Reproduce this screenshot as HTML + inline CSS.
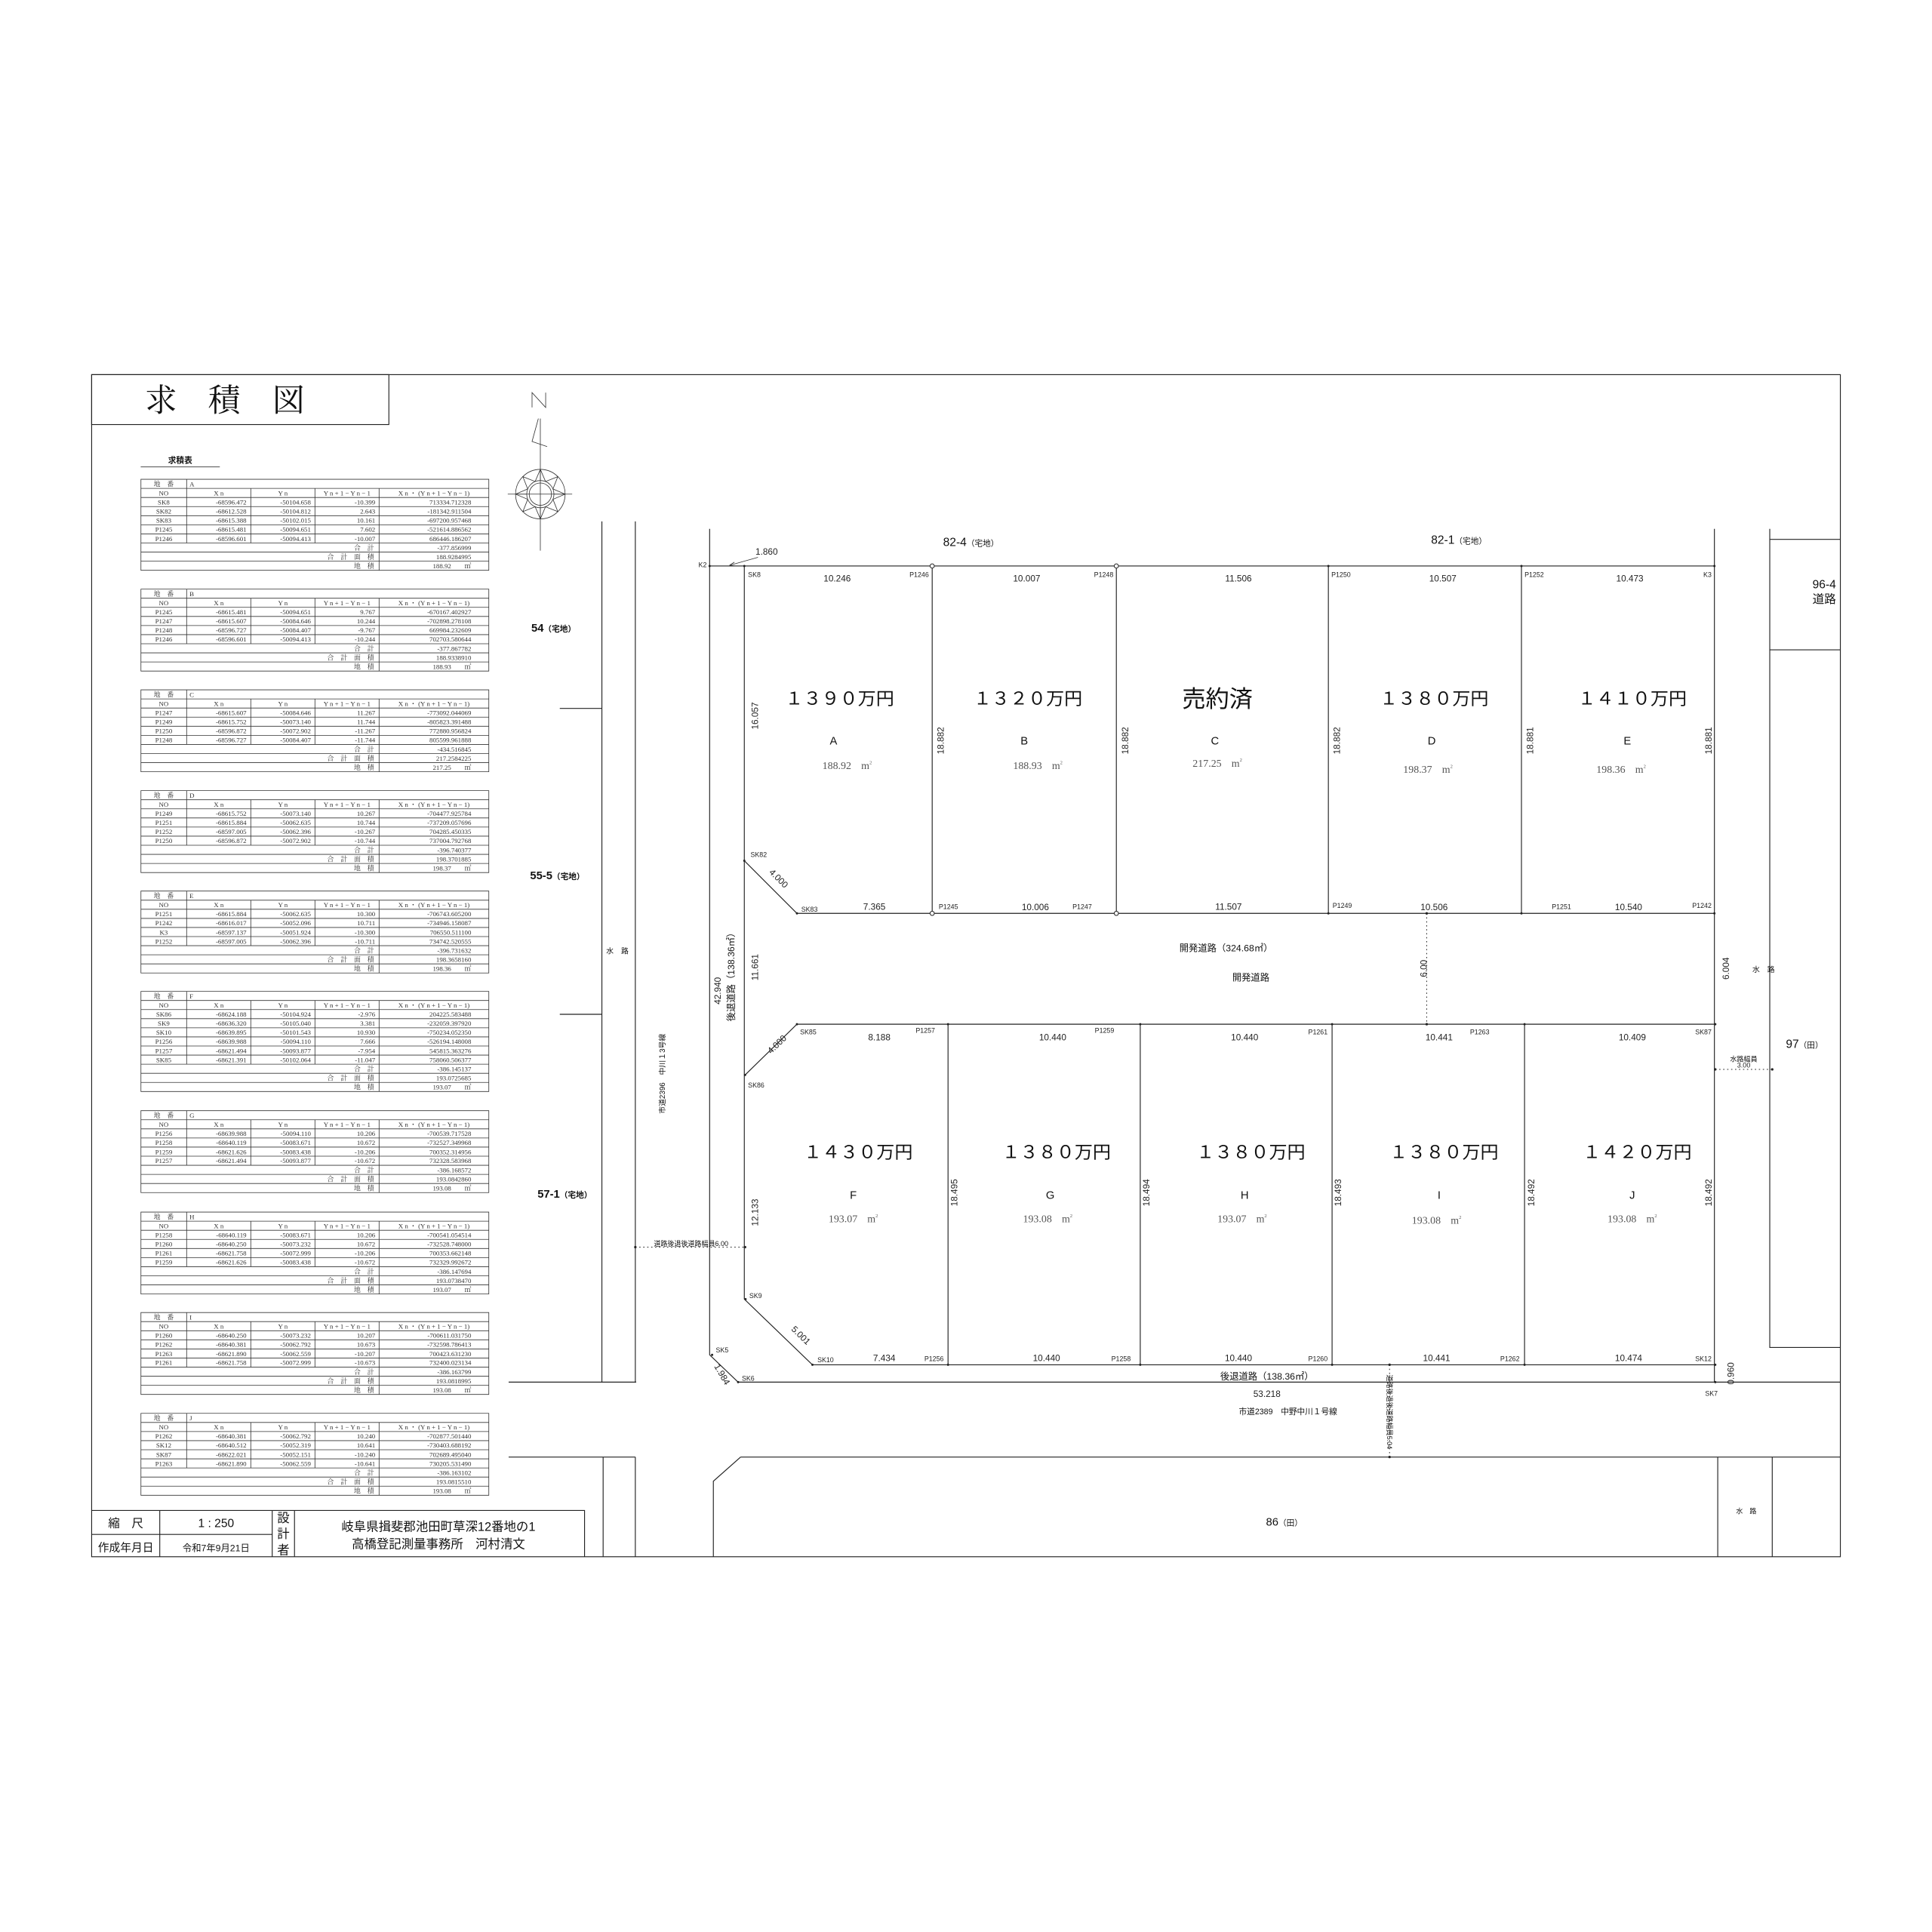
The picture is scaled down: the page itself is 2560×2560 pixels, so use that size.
<!DOCTYPE html>
<html><head><meta charset="utf-8"><style>
html,body{margin:0;padding:0;background:#fff}
svg{display:block}
.ln{stroke:#222;stroke-width:0.7;fill:none}
.tn{stroke:#333;stroke-width:0.5;fill:none}
.dt{stroke:#222;stroke-width:0.6;stroke-dasharray:1 2.2;fill:none}
.tb text{font-family:"Liberation Serif","Noto Serif CJK JP",serif;font-size:5.4px;fill:#333}
.tb .c{text-anchor:middle}.tb .r{text-anchor:end}
.dm{font-family:"Liberation Sans Narrow","Liberation Sans","Noto Sans CJK JP",sans-serif;font-size:7.2px;fill:#222;text-anchor:middle}
.pt{font-family:"Liberation Sans Narrow","Liberation Sans","Noto Sans CJK JP",sans-serif;font-size:5.4px;fill:#222}
.pr{font-family:"Liberation Sans","Noto Sans CJK JP",sans-serif;font-size:14px;fill:#111;text-anchor:middle}
.lt{font-family:"Liberation Sans Narrow","Liberation Sans",sans-serif;font-size:9px;fill:#111;text-anchor:middle}
.ar{font-family:"Liberation Serif","Noto Serif CJK JP",serif;font-size:8.5px;fill:#555}
.jp{font-family:"Liberation Sans","Noto Sans CJK JP",sans-serif;fill:#111}
</style></head><body>
<svg width="2560" height="2560" viewBox="0 0 1560 1560" xmlns="http://www.w3.org/2000/svg">
<rect width="1560" height="1560" fill="#fff"/>
<rect x="74" y="302.5" width="1412" height="954.5" class="ln"/>
<rect x="74" y="302.5" width="240" height="40.3" class="ln"/>
<text x="117" y="332" class="jp" style="font-family:'Liberation Serif','Noto Serif CJK JP',serif;font-size:26px">求</text>
<text x="168" y="332" class="jp" style="font-family:'Liberation Serif','Noto Serif CJK JP',serif;font-size:26px">積</text>
<text x="220" y="332" class="jp" style="font-family:'Liberation Serif','Noto Serif CJK JP',serif;font-size:26px">図</text>
<text x="145.5" y="374" class="jp" style="font-size:6.5px;font-weight:bold" text-anchor="middle">求積表</text>
<line x1="113.6" y1="377" x2="177.5" y2="377" class="tn"/>

<g class="tb">
<g transform="translate(0,387)">
<path class="tn" d="M113.8 0H394.7V73.5H113.8Z M113.8 7.35H394.7 M113.8 14.7H394.7 M113.8 22.05H394.7 M113.8 29.4H394.7 M113.8 36.75H394.7 M113.8 44.1H394.7 M113.8 51.45H394.7 M113.8 58.8H394.7 M113.8 66.15H394.7 M150.7 0V51.45 M202.5 7.35V51.45 M254.3 7.35V51.45 M306.1 7.35V73.5"/>
<text x="132.2" y="5.7" class="c">地　番</text><text x="153" y="5.7">A</text>
<text x="132.2" y="13" class="c">NO</text><text x="176.6" y="13" class="c">X n</text><text x="228.4" y="13" class="c">Y n</text><text x="280.2" y="13" class="c">Y n + 1 − Y n − 1</text><text x="350.4" y="13" class="c">X n ・ (Y n + 1 − Y n − 1)</text>
<text x="132.2" y="20.4" class="c">SK8</text><text x="199" y="20.4" class="r">-68596.472</text><text x="251" y="20.4" class="r">-50104.658</text><text x="303" y="20.4" class="r">-10.399</text><text x="380.5" y="20.4" class="r">713334.712328</text>
<text x="132.2" y="27.7" class="c">SK82</text><text x="199" y="27.7" class="r">-68612.528</text><text x="251" y="27.7" class="r">-50104.812</text><text x="303" y="27.7" class="r">2.643</text><text x="380.5" y="27.7" class="r">-181342.911504</text>
<text x="132.2" y="35.1" class="c">SK83</text><text x="199" y="35.1" class="r">-68615.388</text><text x="251" y="35.1" class="r">-50102.015</text><text x="303" y="35.1" class="r">10.161</text><text x="380.5" y="35.1" class="r">-697200.957468</text>
<text x="132.2" y="42.4" class="c">P1245</text><text x="199" y="42.4" class="r">-68615.481</text><text x="251" y="42.4" class="r">-50094.651</text><text x="303" y="42.4" class="r">7.602</text><text x="380.5" y="42.4" class="r">-521614.886562</text>
<text x="132.2" y="49.8" class="c">P1246</text><text x="199" y="49.8" class="r">-68596.601</text><text x="251" y="49.8" class="r">-50094.413</text><text x="303" y="49.8" class="r">-10.007</text><text x="380.5" y="49.8" class="r">686446.186207</text>
<text x="302" y="57.2" class="r">合　計</text><text x="380.5" y="57.2" class="r">-377.856999</text>
<text x="302" y="64.5" class="r">合　計　面　積</text><text x="380.5" y="64.5" class="r">188.9284995</text>
<text x="302" y="71.9" class="r">地　積</text><text x="380.5" y="71.9" class="r">188.92　　㎡</text>
</g>
<g transform="translate(0,475.7)">
<path class="tn" d="M113.8 0H394.7V66.15H113.8Z M113.8 7.35H394.7 M113.8 14.7H394.7 M113.8 22.05H394.7 M113.8 29.4H394.7 M113.8 36.75H394.7 M113.8 44.1H394.7 M113.8 51.45H394.7 M113.8 58.8H394.7 M150.7 0V44.1 M202.5 7.35V44.1 M254.3 7.35V44.1 M306.1 7.35V66.15"/>
<text x="132.2" y="5.7" class="c">地　番</text><text x="153" y="5.7">B</text>
<text x="132.2" y="13" class="c">NO</text><text x="176.6" y="13" class="c">X n</text><text x="228.4" y="13" class="c">Y n</text><text x="280.2" y="13" class="c">Y n + 1 − Y n − 1</text><text x="350.4" y="13" class="c">X n ・ (Y n + 1 − Y n − 1)</text>
<text x="132.2" y="20.4" class="c">P1245</text><text x="199" y="20.4" class="r">-68615.481</text><text x="251" y="20.4" class="r">-50094.651</text><text x="303" y="20.4" class="r">9.767</text><text x="380.5" y="20.4" class="r">-670167.402927</text>
<text x="132.2" y="27.7" class="c">P1247</text><text x="199" y="27.7" class="r">-68615.607</text><text x="251" y="27.7" class="r">-50084.646</text><text x="303" y="27.7" class="r">10.244</text><text x="380.5" y="27.7" class="r">-702898.278108</text>
<text x="132.2" y="35.1" class="c">P1248</text><text x="199" y="35.1" class="r">-68596.727</text><text x="251" y="35.1" class="r">-50084.407</text><text x="303" y="35.1" class="r">-9.767</text><text x="380.5" y="35.1" class="r">669984.232609</text>
<text x="132.2" y="42.4" class="c">P1246</text><text x="199" y="42.4" class="r">-68596.601</text><text x="251" y="42.4" class="r">-50094.413</text><text x="303" y="42.4" class="r">-10.244</text><text x="380.5" y="42.4" class="r">702703.580644</text>
<text x="302" y="49.8" class="r">合　計</text><text x="380.5" y="49.8" class="r">-377.867782</text>
<text x="302" y="57.2" class="r">合　計　面　積</text><text x="380.5" y="57.2" class="r">188.9338910</text>
<text x="302" y="64.5" class="r">地　積</text><text x="380.5" y="64.5" class="r">188.93　　㎡</text>
</g>
<g transform="translate(0,557)">
<path class="tn" d="M113.8 0H394.7V66.15H113.8Z M113.8 7.35H394.7 M113.8 14.7H394.7 M113.8 22.05H394.7 M113.8 29.4H394.7 M113.8 36.75H394.7 M113.8 44.1H394.7 M113.8 51.45H394.7 M113.8 58.8H394.7 M150.7 0V44.1 M202.5 7.35V44.1 M254.3 7.35V44.1 M306.1 7.35V66.15"/>
<text x="132.2" y="5.7" class="c">地　番</text><text x="153" y="5.7">C</text>
<text x="132.2" y="13" class="c">NO</text><text x="176.6" y="13" class="c">X n</text><text x="228.4" y="13" class="c">Y n</text><text x="280.2" y="13" class="c">Y n + 1 − Y n − 1</text><text x="350.4" y="13" class="c">X n ・ (Y n + 1 − Y n − 1)</text>
<text x="132.2" y="20.4" class="c">P1247</text><text x="199" y="20.4" class="r">-68615.607</text><text x="251" y="20.4" class="r">-50084.646</text><text x="303" y="20.4" class="r">11.267</text><text x="380.5" y="20.4" class="r">-773092.044069</text>
<text x="132.2" y="27.7" class="c">P1249</text><text x="199" y="27.7" class="r">-68615.752</text><text x="251" y="27.7" class="r">-50073.140</text><text x="303" y="27.7" class="r">11.744</text><text x="380.5" y="27.7" class="r">-805823.391488</text>
<text x="132.2" y="35.1" class="c">P1250</text><text x="199" y="35.1" class="r">-68596.872</text><text x="251" y="35.1" class="r">-50072.902</text><text x="303" y="35.1" class="r">-11.267</text><text x="380.5" y="35.1" class="r">772880.956824</text>
<text x="132.2" y="42.4" class="c">P1248</text><text x="199" y="42.4" class="r">-68596.727</text><text x="251" y="42.4" class="r">-50084.407</text><text x="303" y="42.4" class="r">-11.744</text><text x="380.5" y="42.4" class="r">805599.961888</text>
<text x="302" y="49.8" class="r">合　計</text><text x="380.5" y="49.8" class="r">-434.516845</text>
<text x="302" y="57.2" class="r">合　計　面　積</text><text x="380.5" y="57.2" class="r">217.2584225</text>
<text x="302" y="64.5" class="r">地　積</text><text x="380.5" y="64.5" class="r">217.25　　㎡</text>
</g>
<g transform="translate(0,638.4)">
<path class="tn" d="M113.8 0H394.7V66.15H113.8Z M113.8 7.35H394.7 M113.8 14.7H394.7 M113.8 22.05H394.7 M113.8 29.4H394.7 M113.8 36.75H394.7 M113.8 44.1H394.7 M113.8 51.45H394.7 M113.8 58.8H394.7 M150.7 0V44.1 M202.5 7.35V44.1 M254.3 7.35V44.1 M306.1 7.35V66.15"/>
<text x="132.2" y="5.7" class="c">地　番</text><text x="153" y="5.7">D</text>
<text x="132.2" y="13" class="c">NO</text><text x="176.6" y="13" class="c">X n</text><text x="228.4" y="13" class="c">Y n</text><text x="280.2" y="13" class="c">Y n + 1 − Y n − 1</text><text x="350.4" y="13" class="c">X n ・ (Y n + 1 − Y n − 1)</text>
<text x="132.2" y="20.4" class="c">P1249</text><text x="199" y="20.4" class="r">-68615.752</text><text x="251" y="20.4" class="r">-50073.140</text><text x="303" y="20.4" class="r">10.267</text><text x="380.5" y="20.4" class="r">-704477.925784</text>
<text x="132.2" y="27.7" class="c">P1251</text><text x="199" y="27.7" class="r">-68615.884</text><text x="251" y="27.7" class="r">-50062.635</text><text x="303" y="27.7" class="r">10.744</text><text x="380.5" y="27.7" class="r">-737209.057696</text>
<text x="132.2" y="35.1" class="c">P1252</text><text x="199" y="35.1" class="r">-68597.005</text><text x="251" y="35.1" class="r">-50062.396</text><text x="303" y="35.1" class="r">-10.267</text><text x="380.5" y="35.1" class="r">704285.450335</text>
<text x="132.2" y="42.4" class="c">P1250</text><text x="199" y="42.4" class="r">-68596.872</text><text x="251" y="42.4" class="r">-50072.902</text><text x="303" y="42.4" class="r">-10.744</text><text x="380.5" y="42.4" class="r">737004.792768</text>
<text x="302" y="49.8" class="r">合　計</text><text x="380.5" y="49.8" class="r">-396.740377</text>
<text x="302" y="57.2" class="r">合　計　面　積</text><text x="380.5" y="57.2" class="r">198.3701885</text>
<text x="302" y="64.5" class="r">地　積</text><text x="380.5" y="64.5" class="r">198.37　　㎡</text>
</g>
<g transform="translate(0,719.5)">
<path class="tn" d="M113.8 0H394.7V66.15H113.8Z M113.8 7.35H394.7 M113.8 14.7H394.7 M113.8 22.05H394.7 M113.8 29.4H394.7 M113.8 36.75H394.7 M113.8 44.1H394.7 M113.8 51.45H394.7 M113.8 58.8H394.7 M150.7 0V44.1 M202.5 7.35V44.1 M254.3 7.35V44.1 M306.1 7.35V66.15"/>
<text x="132.2" y="5.7" class="c">地　番</text><text x="153" y="5.7">E</text>
<text x="132.2" y="13" class="c">NO</text><text x="176.6" y="13" class="c">X n</text><text x="228.4" y="13" class="c">Y n</text><text x="280.2" y="13" class="c">Y n + 1 − Y n − 1</text><text x="350.4" y="13" class="c">X n ・ (Y n + 1 − Y n − 1)</text>
<text x="132.2" y="20.4" class="c">P1251</text><text x="199" y="20.4" class="r">-68615.884</text><text x="251" y="20.4" class="r">-50062.635</text><text x="303" y="20.4" class="r">10.300</text><text x="380.5" y="20.4" class="r">-706743.605200</text>
<text x="132.2" y="27.7" class="c">P1242</text><text x="199" y="27.7" class="r">-68616.017</text><text x="251" y="27.7" class="r">-50052.096</text><text x="303" y="27.7" class="r">10.711</text><text x="380.5" y="27.7" class="r">-734946.158087</text>
<text x="132.2" y="35.1" class="c">K3</text><text x="199" y="35.1" class="r">-68597.137</text><text x="251" y="35.1" class="r">-50051.924</text><text x="303" y="35.1" class="r">-10.300</text><text x="380.5" y="35.1" class="r">706550.511100</text>
<text x="132.2" y="42.4" class="c">P1252</text><text x="199" y="42.4" class="r">-68597.005</text><text x="251" y="42.4" class="r">-50062.396</text><text x="303" y="42.4" class="r">-10.711</text><text x="380.5" y="42.4" class="r">734742.520555</text>
<text x="302" y="49.8" class="r">合　計</text><text x="380.5" y="49.8" class="r">-396.731632</text>
<text x="302" y="57.2" class="r">合　計　面　積</text><text x="380.5" y="57.2" class="r">198.3658160</text>
<text x="302" y="64.5" class="r">地　積</text><text x="380.5" y="64.5" class="r">198.36　　㎡</text>
</g>
<g transform="translate(0,800.5)">
<path class="tn" d="M113.8 0H394.7V80.85H113.8Z M113.8 7.35H394.7 M113.8 14.7H394.7 M113.8 22.05H394.7 M113.8 29.4H394.7 M113.8 36.75H394.7 M113.8 44.1H394.7 M113.8 51.45H394.7 M113.8 58.8H394.7 M113.8 66.15H394.7 M113.8 73.5H394.7 M150.7 0V58.8 M202.5 7.35V58.8 M254.3 7.35V58.8 M306.1 7.35V80.85"/>
<text x="132.2" y="5.7" class="c">地　番</text><text x="153" y="5.7">F</text>
<text x="132.2" y="13" class="c">NO</text><text x="176.6" y="13" class="c">X n</text><text x="228.4" y="13" class="c">Y n</text><text x="280.2" y="13" class="c">Y n + 1 − Y n − 1</text><text x="350.4" y="13" class="c">X n ・ (Y n + 1 − Y n − 1)</text>
<text x="132.2" y="20.4" class="c">SK86</text><text x="199" y="20.4" class="r">-68624.188</text><text x="251" y="20.4" class="r">-50104.924</text><text x="303" y="20.4" class="r">-2.976</text><text x="380.5" y="20.4" class="r">204225.583488</text>
<text x="132.2" y="27.7" class="c">SK9</text><text x="199" y="27.7" class="r">-68636.320</text><text x="251" y="27.7" class="r">-50105.040</text><text x="303" y="27.7" class="r">3.381</text><text x="380.5" y="27.7" class="r">-232059.397920</text>
<text x="132.2" y="35.1" class="c">SK10</text><text x="199" y="35.1" class="r">-68639.895</text><text x="251" y="35.1" class="r">-50101.543</text><text x="303" y="35.1" class="r">10.930</text><text x="380.5" y="35.1" class="r">-750234.052350</text>
<text x="132.2" y="42.4" class="c">P1256</text><text x="199" y="42.4" class="r">-68639.988</text><text x="251" y="42.4" class="r">-50094.110</text><text x="303" y="42.4" class="r">7.666</text><text x="380.5" y="42.4" class="r">-526194.148008</text>
<text x="132.2" y="49.8" class="c">P1257</text><text x="199" y="49.8" class="r">-68621.494</text><text x="251" y="49.8" class="r">-50093.877</text><text x="303" y="49.8" class="r">-7.954</text><text x="380.5" y="49.8" class="r">545815.363276</text>
<text x="132.2" y="57.2" class="c">SK85</text><text x="199" y="57.2" class="r">-68621.391</text><text x="251" y="57.2" class="r">-50102.064</text><text x="303" y="57.2" class="r">-11.047</text><text x="380.5" y="57.2" class="r">758060.506377</text>
<text x="302" y="64.5" class="r">合　計</text><text x="380.5" y="64.5" class="r">-386.145137</text>
<text x="302" y="71.9" class="r">合　計　面　積</text><text x="380.5" y="71.9" class="r">193.0725685</text>
<text x="302" y="79.2" class="r">地　積</text><text x="380.5" y="79.2" class="r">193.07　　㎡</text>
</g>
<g transform="translate(0,896.8)">
<path class="tn" d="M113.8 0H394.7V66.15H113.8Z M113.8 7.35H394.7 M113.8 14.7H394.7 M113.8 22.05H394.7 M113.8 29.4H394.7 M113.8 36.75H394.7 M113.8 44.1H394.7 M113.8 51.45H394.7 M113.8 58.8H394.7 M150.7 0V44.1 M202.5 7.35V44.1 M254.3 7.35V44.1 M306.1 7.35V66.15"/>
<text x="132.2" y="5.7" class="c">地　番</text><text x="153" y="5.7">G</text>
<text x="132.2" y="13" class="c">NO</text><text x="176.6" y="13" class="c">X n</text><text x="228.4" y="13" class="c">Y n</text><text x="280.2" y="13" class="c">Y n + 1 − Y n − 1</text><text x="350.4" y="13" class="c">X n ・ (Y n + 1 − Y n − 1)</text>
<text x="132.2" y="20.4" class="c">P1256</text><text x="199" y="20.4" class="r">-68639.988</text><text x="251" y="20.4" class="r">-50094.110</text><text x="303" y="20.4" class="r">10.206</text><text x="380.5" y="20.4" class="r">-700539.717528</text>
<text x="132.2" y="27.7" class="c">P1258</text><text x="199" y="27.7" class="r">-68640.119</text><text x="251" y="27.7" class="r">-50083.671</text><text x="303" y="27.7" class="r">10.672</text><text x="380.5" y="27.7" class="r">-732527.349968</text>
<text x="132.2" y="35.1" class="c">P1259</text><text x="199" y="35.1" class="r">-68621.626</text><text x="251" y="35.1" class="r">-50083.438</text><text x="303" y="35.1" class="r">-10.206</text><text x="380.5" y="35.1" class="r">700352.314956</text>
<text x="132.2" y="42.4" class="c">P1257</text><text x="199" y="42.4" class="r">-68621.494</text><text x="251" y="42.4" class="r">-50093.877</text><text x="303" y="42.4" class="r">-10.672</text><text x="380.5" y="42.4" class="r">732328.583968</text>
<text x="302" y="49.8" class="r">合　計</text><text x="380.5" y="49.8" class="r">-386.168572</text>
<text x="302" y="57.2" class="r">合　計　面　積</text><text x="380.5" y="57.2" class="r">193.0842860</text>
<text x="302" y="64.5" class="r">地　積</text><text x="380.5" y="64.5" class="r">193.08　　㎡</text>
</g>
<g transform="translate(0,978.7)">
<path class="tn" d="M113.8 0H394.7V66.15H113.8Z M113.8 7.35H394.7 M113.8 14.7H394.7 M113.8 22.05H394.7 M113.8 29.4H394.7 M113.8 36.75H394.7 M113.8 44.1H394.7 M113.8 51.45H394.7 M113.8 58.8H394.7 M150.7 0V44.1 M202.5 7.35V44.1 M254.3 7.35V44.1 M306.1 7.35V66.15"/>
<text x="132.2" y="5.7" class="c">地　番</text><text x="153" y="5.7">H</text>
<text x="132.2" y="13" class="c">NO</text><text x="176.6" y="13" class="c">X n</text><text x="228.4" y="13" class="c">Y n</text><text x="280.2" y="13" class="c">Y n + 1 − Y n − 1</text><text x="350.4" y="13" class="c">X n ・ (Y n + 1 − Y n − 1)</text>
<text x="132.2" y="20.4" class="c">P1258</text><text x="199" y="20.4" class="r">-68640.119</text><text x="251" y="20.4" class="r">-50083.671</text><text x="303" y="20.4" class="r">10.206</text><text x="380.5" y="20.4" class="r">-700541.054514</text>
<text x="132.2" y="27.7" class="c">P1260</text><text x="199" y="27.7" class="r">-68640.250</text><text x="251" y="27.7" class="r">-50073.232</text><text x="303" y="27.7" class="r">10.672</text><text x="380.5" y="27.7" class="r">-732528.748000</text>
<text x="132.2" y="35.1" class="c">P1261</text><text x="199" y="35.1" class="r">-68621.758</text><text x="251" y="35.1" class="r">-50072.999</text><text x="303" y="35.1" class="r">-10.206</text><text x="380.5" y="35.1" class="r">700353.662148</text>
<text x="132.2" y="42.4" class="c">P1259</text><text x="199" y="42.4" class="r">-68621.626</text><text x="251" y="42.4" class="r">-50083.438</text><text x="303" y="42.4" class="r">-10.672</text><text x="380.5" y="42.4" class="r">732329.992672</text>
<text x="302" y="49.8" class="r">合　計</text><text x="380.5" y="49.8" class="r">-386.147694</text>
<text x="302" y="57.2" class="r">合　計　面　積</text><text x="380.5" y="57.2" class="r">193.0738470</text>
<text x="302" y="64.5" class="r">地　積</text><text x="380.5" y="64.5" class="r">193.07　　㎡</text>
</g>
<g transform="translate(0,1059.8)">
<path class="tn" d="M113.8 0H394.7V66.15H113.8Z M113.8 7.35H394.7 M113.8 14.7H394.7 M113.8 22.05H394.7 M113.8 29.4H394.7 M113.8 36.75H394.7 M113.8 44.1H394.7 M113.8 51.45H394.7 M113.8 58.8H394.7 M150.7 0V44.1 M202.5 7.35V44.1 M254.3 7.35V44.1 M306.1 7.35V66.15"/>
<text x="132.2" y="5.7" class="c">地　番</text><text x="153" y="5.7">I</text>
<text x="132.2" y="13" class="c">NO</text><text x="176.6" y="13" class="c">X n</text><text x="228.4" y="13" class="c">Y n</text><text x="280.2" y="13" class="c">Y n + 1 − Y n − 1</text><text x="350.4" y="13" class="c">X n ・ (Y n + 1 − Y n − 1)</text>
<text x="132.2" y="20.4" class="c">P1260</text><text x="199" y="20.4" class="r">-68640.250</text><text x="251" y="20.4" class="r">-50073.232</text><text x="303" y="20.4" class="r">10.207</text><text x="380.5" y="20.4" class="r">-700611.031750</text>
<text x="132.2" y="27.7" class="c">P1262</text><text x="199" y="27.7" class="r">-68640.381</text><text x="251" y="27.7" class="r">-50062.792</text><text x="303" y="27.7" class="r">10.673</text><text x="380.5" y="27.7" class="r">-732598.786413</text>
<text x="132.2" y="35.1" class="c">P1263</text><text x="199" y="35.1" class="r">-68621.890</text><text x="251" y="35.1" class="r">-50062.559</text><text x="303" y="35.1" class="r">-10.207</text><text x="380.5" y="35.1" class="r">700423.631230</text>
<text x="132.2" y="42.4" class="c">P1261</text><text x="199" y="42.4" class="r">-68621.758</text><text x="251" y="42.4" class="r">-50072.999</text><text x="303" y="42.4" class="r">-10.673</text><text x="380.5" y="42.4" class="r">732400.023134</text>
<text x="302" y="49.8" class="r">合　計</text><text x="380.5" y="49.8" class="r">-386.163799</text>
<text x="302" y="57.2" class="r">合　計　面　積</text><text x="380.5" y="57.2" class="r">193.0818995</text>
<text x="302" y="64.5" class="r">地　積</text><text x="380.5" y="64.5" class="r">193.08　　㎡</text>
</g>
<g transform="translate(0,1141.2)">
<path class="tn" d="M113.8 0H394.7V66.15H113.8Z M113.8 7.35H394.7 M113.8 14.7H394.7 M113.8 22.05H394.7 M113.8 29.4H394.7 M113.8 36.75H394.7 M113.8 44.1H394.7 M113.8 51.45H394.7 M113.8 58.8H394.7 M150.7 0V44.1 M202.5 7.35V44.1 M254.3 7.35V44.1 M306.1 7.35V66.15"/>
<text x="132.2" y="5.7" class="c">地　番</text><text x="153" y="5.7">J</text>
<text x="132.2" y="13" class="c">NO</text><text x="176.6" y="13" class="c">X n</text><text x="228.4" y="13" class="c">Y n</text><text x="280.2" y="13" class="c">Y n + 1 − Y n − 1</text><text x="350.4" y="13" class="c">X n ・ (Y n + 1 − Y n − 1)</text>
<text x="132.2" y="20.4" class="c">P1262</text><text x="199" y="20.4" class="r">-68640.381</text><text x="251" y="20.4" class="r">-50062.792</text><text x="303" y="20.4" class="r">10.240</text><text x="380.5" y="20.4" class="r">-702877.501440</text>
<text x="132.2" y="27.7" class="c">SK12</text><text x="199" y="27.7" class="r">-68640.512</text><text x="251" y="27.7" class="r">-50052.319</text><text x="303" y="27.7" class="r">10.641</text><text x="380.5" y="27.7" class="r">-730403.688192</text>
<text x="132.2" y="35.1" class="c">SK87</text><text x="199" y="35.1" class="r">-68622.021</text><text x="251" y="35.1" class="r">-50052.151</text><text x="303" y="35.1" class="r">-10.240</text><text x="380.5" y="35.1" class="r">702689.495040</text>
<text x="132.2" y="42.4" class="c">P1263</text><text x="199" y="42.4" class="r">-68621.890</text><text x="251" y="42.4" class="r">-50062.559</text><text x="303" y="42.4" class="r">-10.641</text><text x="380.5" y="42.4" class="r">730205.531490</text>
<text x="302" y="49.8" class="r">合　計</text><text x="380.5" y="49.8" class="r">-386.163102</text>
<text x="302" y="57.2" class="r">合　計　面　積</text><text x="380.5" y="57.2" class="r">193.0815510</text>
<text x="302" y="64.5" class="r">地　積</text><text x="380.5" y="64.5" class="r">193.08　　㎡</text>
</g>
</g>

<path class="ln" d="M74 1219.6H472V1257 M129 1219.6V1257 M219.8 1219.6V1257 M237.8 1219.6V1257 M74 1239H219.8"/>
<text x="101.5" y="1233" class="jp" style="font-size:9.5px" text-anchor="middle">縮　尺</text>
<text x="174.5" y="1233" class="jp" style="font-size:9.5px" text-anchor="middle">1 : 250</text>
<text x="101.5" y="1252.5" class="jp" style="font-size:9px" text-anchor="middle">作成年月日</text>
<text x="174.5" y="1252.5" class="jp" style="font-size:7.5px" text-anchor="middle">令和7年9月21日</text>
<text x="228.8" y="1229" class="jp" style="font-size:10px" text-anchor="middle">設</text>
<text x="228.8" y="1242" class="jp" style="font-size:10px" text-anchor="middle">計</text>
<text x="228.8" y="1255" class="jp" style="font-size:10px" text-anchor="middle">者</text>
<text x="354" y="1236" class="jp" style="font-size:10px" text-anchor="middle">岐阜県揖斐郡池田町草深12番地の1</text>
<text x="354" y="1250" class="jp" style="font-size:10px" text-anchor="middle">高橋登記測量事務所　河村清文</text>

<g class="tn" style="stroke:#333">
<path d="M429.6 329V317L440.6 329V317"/>
<path d="M434.7 338L429.6 356.5L441.8 360.6"/>
<line x1="436.3" y1="338" x2="436.3" y2="444.6"/>
<line x1="410" y1="399" x2="462" y2="399"/>
<circle cx="436.3" cy="399" r="20"/>
<circle cx="436.3" cy="399" r="11"/>
<circle cx="436.3" cy="399" r="9"/>
<path d="M436.3 379L440.5 388.8L450.4 384.9L446.5 394.8L456.3 399L446.5 403.2L450.4 413.1L440.5 409.2L436.3 419L432.1 409.2L422.2 413.1L426.1 403.2L416.3 399L426.1 394.8L422.2 384.9L432.1 388.8Z"/>
<path d="M436.3 379L436.3 388M456.3 399L447.3 399M436.3 419L436.3 410M416.3 399L425.3 399"/>
</g>

<path class="ln" d="M486 421V1116 M513 421V1116 M452 572H486 M452 819H486 M410.7 1116H513.7 M410.7 1176.5H513 M487 1176.5V1257 M513 1176.5V1257"/>
<text x="498.5" y="770" class="jp" style="font-size:6px" text-anchor="middle">水　路</text>
<text transform="translate(537,867) rotate(-90)" class="jp" style="font-size:6px" text-anchor="middle">市道2396　中川１3号線</text>
<text x="447" y="510" class="jp" style="font-size:9px;font-weight:bold" text-anchor="middle">54<tspan style="font-size:6.5px">（宅地）</tspan></text>
<text x="450" y="710" class="jp" style="font-size:9px;font-weight:bold" text-anchor="middle">55-5<tspan style="font-size:6.5px">（宅地）</tspan></text>
<text x="456" y="967" class="jp" style="font-size:9px;font-weight:bold" text-anchor="middle">57-1<tspan style="font-size:6.5px">（宅地）</tspan></text>

<path class="ln" d="M573 427V1094L596 1116H1486 M573 457H1384.3 M601 457V1049L656 1102H1385 M601 695L643.5 737.5H1384.3 M601.6 868L643.5 827H1385 M1384.3 427V1116
M752.7 457V737.5 M901.4 457V737.5 M1072.6 457V737.5 M1228.5 457V737.5
M765.5 827V1102 M920.7 827V1102 M1075.6 827V1102 M1231 827V1102
M598 1176.5H1486 M598 1176.5L576 1196V1257 M1387 1176.5V1257 M1431 1176.5V1257
M1429 427V1088H1486 M1429 435.5H1486 M1429 524.7H1486"/>
<path class="dt" d="M1152 737.5V827 M1122 1102V1176.5 M1385 863.5H1431 M513 1007H601.6"/>
<g fill="#222">
<circle cx="573" cy="457" r="0.9"/><circle cx="601" cy="457" r="0.9"/><circle cx="1072.6" cy="457" r="0.9"/><circle cx="1228.5" cy="457" r="0.9"/><circle cx="1384.3" cy="457" r="0.9"/>
<circle cx="601" cy="695" r="0.9"/><circle cx="643.5" cy="737.5" r="0.9"/><circle cx="1072.6" cy="737.5" r="0.9"/><circle cx="1228.5" cy="737.5" r="0.9"/><circle cx="1384.3" cy="737.5" r="0.9"/><circle cx="1152" cy="737.5" r="1"/>
<circle cx="601.6" cy="868" r="0.9"/><circle cx="643.5" cy="827" r="0.9"/><circle cx="765.5" cy="827" r="0.9"/><circle cx="920.7" cy="827" r="0.9"/><circle cx="1075.6" cy="827" r="0.9"/><circle cx="1231" cy="827" r="0.9"/><circle cx="1385" cy="827" r="0.9"/><circle cx="1152" cy="827" r="1"/>
<circle cx="602" cy="1049" r="0.9"/><circle cx="656" cy="1102" r="0.9"/><circle cx="765.5" cy="1102" r="0.9"/><circle cx="920.7" cy="1102" r="0.9"/><circle cx="1075.6" cy="1102" r="0.9"/><circle cx="1231" cy="1102" r="0.9"/><circle cx="1385" cy="1102" r="0.9"/><circle cx="1122" cy="1102" r="1"/><circle cx="1122" cy="1176.5" r="1"/>
<circle cx="575" cy="1094" r="0.9"/><circle cx="596" cy="1116" r="0.9"/><circle cx="1385" cy="1116" r="0.9"/><circle cx="1385" cy="863.5" r="1"/><circle cx="1431" cy="863.5" r="1"/><circle cx="513" cy="1007" r="1"/><circle cx="601.6" cy="1007" r="1"/>
</g>
<g fill="#fff" stroke="#222" stroke-width="0.6">
<circle cx="752.7" cy="457" r="1.7"/><circle cx="901.4" cy="457" r="1.7"/><circle cx="752.7" cy="737.5" r="1.7"/><circle cx="901.4" cy="737.5" r="1.7"/>
</g>
<path class="tn" d="M612 450L589 456.5 M589 456.5l4 -2.6 M589 456.5l4.6 0.4"/>
<text x="610" y="448" class="dm" style="text-anchor:start">1.860</text>

<text x="784" y="441" class="jp" style="font-size:9.5px" text-anchor="middle">82-4<tspan style="font-size:6.5px">（宅地）</tspan></text>
<text x="1178" y="439" class="jp" style="font-size:9.5px" text-anchor="middle">82-1<tspan style="font-size:6.5px">（宅地）</tspan></text>
<text x="1473" y="475" class="jp" style="font-size:9.5px" text-anchor="middle">96-4</text>
<text x="1473" y="487" class="jp" style="font-size:9.5px" text-anchor="middle">道路</text>
<text x="1457" y="846" class="jp" style="font-size:9.5px" text-anchor="middle">97<tspan style="font-size:6.5px">（田）</tspan></text>

<g class="pt">
<text x="564" y="458">K2</text>
<text x="604" y="466">SK8</text>
<text x="750" y="466" text-anchor="end">P1246</text>
<text x="899" y="466" text-anchor="end">P1248</text>
<text x="1075" y="466">P1250</text>
<text x="1231" y="466">P1252</text>
<text x="1382" y="466" text-anchor="end">K3</text>
<text x="606" y="692">SK82</text>
<text x="647" y="736">SK83</text>
<text x="758" y="734">P1245</text>
<text x="866" y="734">P1247</text>
<text x="1076" y="733">P1249</text>
<text x="1253" y="734">P1251</text>
<text x="1382" y="733" text-anchor="end">P1242</text>
<text x="646" y="835">SK85</text>
<text x="755" y="834" text-anchor="end">P1257</text>
<text x="884" y="834">P1259</text>
<text x="1072" y="835" text-anchor="end">P1261</text>
<text x="1187" y="835">P1263</text>
<text x="1382" y="835" text-anchor="end">SK87</text>
<text x="604" y="878">SK86</text>
<text x="605" y="1048">SK9</text>
<text x="660" y="1100">SK10</text>
<text x="762" y="1099" text-anchor="end">P1256</text>
<text x="913" y="1099" text-anchor="end">P1258</text>
<text x="1072" y="1099" text-anchor="end">P1260</text>
<text x="1227" y="1099" text-anchor="end">P1262</text>
<text x="1382" y="1099" text-anchor="end">SK12</text>
<text x="578" y="1092">SK5</text>
<text x="599" y="1115">SK6</text>
<text x="1387" y="1127" text-anchor="end">SK7</text>
</g>

<g class="dm">
<text x="676" y="469.5">10.246</text>
<text x="829" y="469.5">10.007</text>
<text x="1000" y="469.5">11.506</text>
<text x="1165" y="469.5">10.507</text>
<text x="1316" y="469.5">10.473</text>
<text x="706" y="734.5">7.365</text>
<text x="836" y="735">10.006</text>
<text x="992" y="734.5">11.507</text>
<text x="1158" y="735">10.506</text>
<text x="1315" y="735">10.540</text>
<text x="710" y="840">8.188</text>
<text x="850" y="840">10.440</text>
<text x="1005" y="840">10.440</text>
<text x="1162" y="840">10.441</text>
<text x="1318" y="840">10.409</text>
<text x="714" y="1099">7.434</text>
<text x="845" y="1099">10.440</text>
<text x="1000" y="1099">10.440</text>
<text x="1160" y="1099">10.441</text>
<text x="1315" y="1099">10.474</text>
<text x="1023" y="1114" class="jp" style="font-size:7.5px">後退道路（138.36㎡）</text>
<text x="1023" y="1128">53.218</text>
<text transform="translate(612,578) rotate(-90)">16.057</text>
<text transform="translate(762,598) rotate(-90)">18.882</text>
<text transform="translate(911,598) rotate(-90)">18.882</text>
<text transform="translate(1082,598) rotate(-90)">18.882</text>
<text transform="translate(1238,598) rotate(-90)">18.881</text>
<text transform="translate(1382,598) rotate(-90)">18.881</text>
<text transform="translate(612,781) rotate(-90)">11.661</text>
<text transform="translate(582,800) rotate(-90)">42.940</text>
<text transform="translate(593,787) rotate(-90)" class="jp" style="font-size:7.5px">後退道路（138.36㎡）</text>
<text transform="translate(612,979) rotate(-90)">12.133</text>
<text transform="translate(773,963) rotate(-90)">18.495</text>
<text transform="translate(928,963) rotate(-90)">18.494</text>
<text transform="translate(1083,963) rotate(-90)">18.493</text>
<text transform="translate(1239,963) rotate(-90)">18.492</text>
<text transform="translate(1382,963) rotate(-90)">18.492</text>
<text transform="translate(1396,782) rotate(-90)">6.004</text>
<text transform="translate(1152,782) rotate(-90)">6.00</text>
<text transform="translate(1400,1109) rotate(-90)">0.960</text>
<text transform="translate(627,711) rotate(45)">4.000</text>
<text transform="translate(629,845) rotate(-44)">4.000</text>
<text transform="translate(645,1080) rotate(44)">5.001</text>
<text transform="translate(581,1111) rotate(60)">1.984</text>
</g>
<text x="1415" y="785" class="jp" style="font-size:6px">水　路</text>
<text x="1408" y="857" class="jp" style="font-size:5.5px" text-anchor="middle">水路幅員</text>
<text x="1408" y="862" class="dm" style="font-size:5.5px">3.00</text>
<text x="558" y="1006" class="jp" style="font-size:5.5px" text-anchor="middle">道路後退後道路幅員6.00</text>
<text transform="translate(1120,1140) rotate(90)" class="jp" style="font-size:5.5px" text-anchor="middle">道路後退後道路幅員5.04</text>
<text x="1040" y="1142" class="jp" style="font-size:6.5px" text-anchor="middle">市道2389　中野中川１号線</text>
<text x="1037" y="1232" class="jp" style="font-size:9px" text-anchor="middle">86<tspan style="font-size:6.5px">（田）</tspan></text>
<text x="1410" y="1222" class="jp" style="font-size:5.5px" text-anchor="middle">水　路</text>
<text x="990" y="768" class="jp" style="font-size:7.5px" text-anchor="middle">開発道路（324.68㎡）</text>
<text x="1010" y="792" class="jp" style="font-size:7.5px" text-anchor="middle">開発道路</text>

<g class="pr">
<text x="678" y="569" textLength="88" lengthAdjust="spacingAndGlyphs">１３９０万円</text>
<text x="830" y="569" textLength="88" lengthAdjust="spacingAndGlyphs">１３２０万円</text>
<text x="983" y="571" style="font-size:19px">売約済</text>
<text x="1158" y="569" textLength="88" lengthAdjust="spacingAndGlyphs">１３８０万円</text>
<text x="1318" y="569" textLength="88" lengthAdjust="spacingAndGlyphs">１４１０万円</text>
<text x="693" y="935" textLength="88" lengthAdjust="spacingAndGlyphs">１４３０万円</text>
<text x="853" y="935" textLength="88" lengthAdjust="spacingAndGlyphs">１３８０万円</text>
<text x="1010" y="935" textLength="88" lengthAdjust="spacingAndGlyphs">１３８０万円</text>
<text x="1166" y="935" textLength="88" lengthAdjust="spacingAndGlyphs">１３８０万円</text>
<text x="1322" y="935" textLength="88" lengthAdjust="spacingAndGlyphs">１４２０万円</text>
</g>
<g class="lt">
<text x="673" y="601">A</text><text x="827" y="601">B</text><text x="981" y="601">C</text><text x="1156" y="601">D</text><text x="1314" y="601">E</text>
<text x="689" y="968">F</text><text x="848" y="968">G</text><text x="1005" y="968">H</text><text x="1162" y="968">I</text><text x="1318" y="968">J</text>
</g>
<g class="ar">
<text x="664" y="621">188.92<tspan dx="8">m</tspan><tspan dy="-4" font-size="4">2</tspan></text>
<text x="818" y="621">188.93<tspan dx="8">m</tspan><tspan dy="-4" font-size="4">2</tspan></text>
<text x="963" y="619">217.25<tspan dx="8">m</tspan><tspan dy="-4" font-size="4">2</tspan></text>
<text x="1133" y="624">198.37<tspan dx="8">m</tspan><tspan dy="-4" font-size="4">2</tspan></text>
<text x="1289" y="624">198.36<tspan dx="8">m</tspan><tspan dy="-4" font-size="4">2</tspan></text>
<text x="669" y="987">193.07<tspan dx="8">m</tspan><tspan dy="-4" font-size="4">2</tspan></text>
<text x="826" y="987">193.08<tspan dx="8">m</tspan><tspan dy="-4" font-size="4">2</tspan></text>
<text x="983" y="987">193.07<tspan dx="8">m</tspan><tspan dy="-4" font-size="4">2</tspan></text>
<text x="1140" y="988">193.08<tspan dx="8">m</tspan><tspan dy="-4" font-size="4">2</tspan></text>
<text x="1298" y="987">193.08<tspan dx="8">m</tspan><tspan dy="-4" font-size="4">2</tspan></text>
</g>
</svg>
</body></html>
